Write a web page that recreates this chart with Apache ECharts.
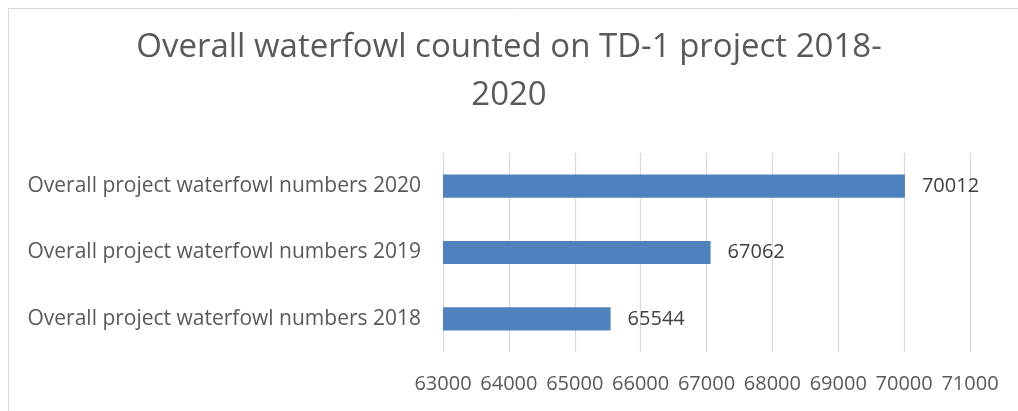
<!DOCTYPE html>
<html><head><meta charset="utf-8">
<script src="https://cdn.jsdelivr.net/npm/echarts@6/dist/echarts.min.js"></script>
<style>html,body{margin:0;padding:0;background:#fff}#c{width:1018px;height:411px}</style>
</head><body><div id="c"></div>
<script>
const categories = ["Overall project waterfowl numbers 2018","Overall project waterfowl numbers 2019","Overall project waterfowl numbers 2020"];
const values = [65544, 67062, 70012];
const titleText = "Overall waterfowl counted on TD-1 project 2018-\n2020";
const FONT = "Open Sans";
const chart = echarts.init(document.getElementById('c'), null, {renderer:'canvas'});
chart.setOption({
  animation:false,
  textStyle:{fontFamily:FONT},
  title:{text:titleText,left:'center',top:24,padding:[0,0,0,16],
    textStyle:{fontFamily:FONT,fontSize:33,fontWeight:'normal',color:'#595959',lineHeight:48,align:'center'}},
  graphic:[{type:'rect',shape:{x:8.5,y:8.5,width:1200,height:600},style:{fill:'none',stroke:'#d9d9d9',lineWidth:1},silent:true}],
  grid:{left:443,right:48,top:153,bottom:59,containLabel:false},
  xAxis:{type:'value',min:63000,max:71000,interval:1000,
    axisLine:{show:false},axisTick:{show:false},
    axisLabel:{fontFamily:FONT,fontSize:20,color:'#595959',margin:22,formatter:v=>String(v)},
    splitLine:{lineStyle:{color:'#d9d9d9',width:1.3}}},
  yAxis:{type:'category',data:categories,
    axisLine:{show:false},axisTick:{show:false},
    axisLabel:{fontFamily:FONT,fontSize:21,color:'#595959',margin:22}},
  series:[{type:'bar',data:values,barWidth:'35%',itemStyle:{color:'#4f81bd'},
    label:{show:true,position:'right',distance:17,fontFamily:FONT,fontSize:20,color:'#404040'}}]
});
</script></body></html>
